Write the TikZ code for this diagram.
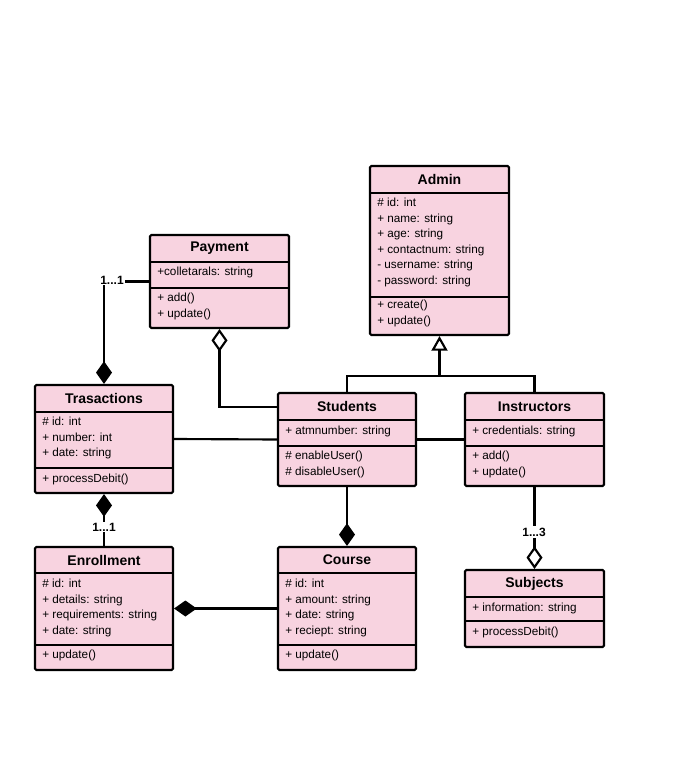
\documentclass[tikz,border=0pt]{standalone}
\usepackage{fontspec}
\setmainfont{Liberation Sans}
\usetikzlibrary{arrows.meta,fit,calc}
\definecolor{pinkfill}{HTML}{F8D3E0}
\tikzset{fd/.tip={Diamond[length=17pt,width=12pt]},
  od/.tip={Diamond[open,fill=white,length=17pt,width=12pt]}}
\begin{document}
\begin{tikzpicture}[x=0.75pt,y=-0.75pt,
  cls/.style={draw,line width=1.6pt,fill=pinkfill,inner sep=0pt,rounded corners=1pt},
  div/.style={line width=1.6pt},
  ttl/.style={font=\fontsize{10.5}{12}\selectfont\bfseries},
  txt/.style={anchor=north west,align=left,inner sep=0pt,font=\fontsize{8.8}{11.6}\selectfont},
  con/.style={line width=1.6pt},
  lbl/.style={fill=white,inner sep=1pt,font=\fontsize{9}{11}\selectfont\bfseries}]
\useasboundingbox (0,0) rectangle (680,777);
% Admin
\node[cls,fit={(370,166)(509,335)}] (admin) {};
\draw[div] (370,193)--(509,193) (370,297)--(509,297);
\node[ttl] at (439.5,179.5) {Admin};
\node[txt] at (377,198) {\# id: int\\+ name: string\\+ age: string\\+ contactnum: string\\- username: string\\- password: string};
\node[txt] at (377,300) {+ create()\\+ update()};
% Payment
\node[cls,fit={(150,235)(289,328)}] (pay) {};
\draw[div] (150,262)--(289,262) (150,288)--(289,288);
\node[ttl] at (219.5,248.5) {Payment};
\node[txt] at (157,267) {+colletarals: string};
\node[txt] at (157,293) {+ add()\\+ update()};
% Trasactions
\node[cls,fit={(35,385)(173,493)}] (trans) {};
\draw[div] (35,412)--(173,412) (35,468)--(173,468);
\node[ttl] at (104,398.5) {Trasactions};
\node[txt] at (42,417) {\# id: int\\+ number: int\\+ date: string};
\node[txt] at (42,474) {+ processDebit()};
% Students
\node[cls,fit={(278,393)(416,486)}] (stud) {};
\draw[div] (278,420)--(416,420) (278,446)--(416,446);
\node[ttl] at (347,406.5) {Students};
\node[txt] at (285,426) {+ atmnumber: string};
\node[txt] at (285,451) {\# enableUser()\\\# disableUser()};
% Instructors
\node[cls,fit={(465,393)(604,486)}] (instr) {};
\draw[div] (465,420)--(604,420) (465,446)--(604,446);
\node[ttl] at (534.5,406.5) {Instructors};
\node[txt] at (472,426) {+ credentials: string};
\node[txt] at (472,451) {+ add()\\+ update()};
% Enrollment
\node[cls,fit={(35,547)(173,670)}] (enr) {};
\draw[div] (35,573)--(173,573) (35,645)--(173,645);
\node[ttl] at (104,560) {Enrollment};
\node[txt] at (42,579) {\# id: int\\+ details: string\\+ requirements: string\\+ date: string};
\node[txt] at (42,650) {+ update()};
% Course
\node[cls,fit={(278,547)(416,670)}] (course) {};
\draw[div] (278,573)--(416,573) (278,645)--(416,645);
\node[ttl] at (347,560) {Course};
\node[txt] at (285,579) {\# id: int\\+ amount: string\\+ date: string\\+ reciept: string};
\node[txt] at (285,650) {+ update()};
% Subjects
\node[cls,fit={(465,570)(604,647)}] (subj) {};
\draw[div] (465,597)--(604,597) (465,621)--(604,621);
\node[ttl] at (534.5,583.5) {Subjects};
\node[txt] at (472,603) {+ information: string};
\node[txt] at (472,627) {+ processDebit()};
% connectors
\draw[con,-fd] (pay.west) -| (trans.north);
\node[lbl] at (112,280) {1...1};
\draw[con,od-] (pay.south) |- ($(stud.north west)+(0,15)$);
\draw[con] (trans.east) -- (stud.west);
\draw[con] (stud.east) -- (instr.west);
\coordinate (g) at (439.5,376);
\draw[con] (stud.north) |- (g);
\draw[con] (instr.north) |- (g);
\draw[con,-{Triangle[open,fill=white,length=11pt,width=12pt]}] (g) -- (admin.south);
\draw[con,fd-] (trans.south) -- (enr.north);
\node[lbl] at (104,527) {1...1};
\draw[con,-fd] (stud.south) -- (course.north);
\draw[con,fd-] (enr.east) -- (course.west);
\draw[con,-od] (instr.south) -- (subj.north);
\node[lbl] at (534,532) {1...3};
\end{tikzpicture}
\end{document}
